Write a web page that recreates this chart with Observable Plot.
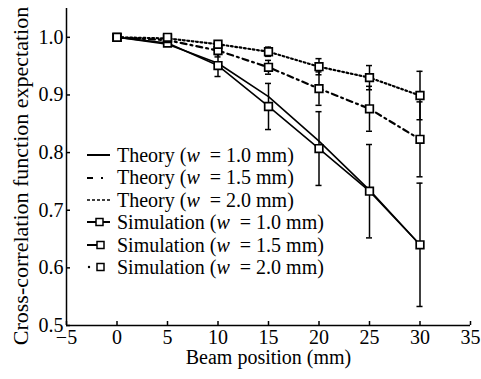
<!DOCTYPE html>
<html><head><meta charset="utf-8">
<script src="https://cdn.jsdelivr.net/npm/d3@7"></script>
<script src="https://cdn.jsdelivr.net/npm/@observablehq/plot@0.6"></script>
<style>
body{margin:0;background:#fff;}
#wrap{position:relative;width:481px;height:379px;}
#legend{position:absolute;left:84px;top:144px;font-family:"Liberation Serif",serif;font-size:20px;line-height:22.4px;color:#000;white-space:nowrap;}
#legend .row{height:22.4px;display:flex;align-items:center;}
#legend svg{width:26px;height:22px;margin-right:7px;flex:none;}
</style></head><body><div id="wrap"><div id="legend"></div></div>
<script>
// ---- data ----
const positions = [0, 5, 10, 15, 20, 25, 30];
const theory10 = [1.0, 0.988, 0.955, 0.897, 0.82, 0.735, 0.64];
const theory15 = [1.0, 0.995, 0.977, 0.948, 0.911, 0.876, 0.823];
const theory20 = [1.0, 0.998, 0.988, 0.975, 0.949, 0.93, 0.899];
const sim10 = [1.0, 0.99, 0.951, 0.88, 0.807, 0.733, 0.64];
const err10 = [0, 0, 0.019, 0.04, 0.064, 0.081, 0.107];
const sim15 = [1.0, 0.998, 0.977, 0.948, 0.911, 0.876, 0.823];
const err15 = [0, 0, 0.011, 0.012, 0.029, 0.039, 0.065];
const sim20 = [1.0, 1.0, 0.988, 0.975, 0.949, 0.93, 0.899];
const err20 = [0, 0, 0.005, 0.008, 0.014, 0.021, 0.042];
const xTicks = [-5, 0, 5, 10, 15, 20, 25, 30, 35];
const yTicks = [0.5, 0.6, 0.7, 0.8, 0.9, 1.0];
const xLabel = "Beam position (mm)";
const yLabel = "Cross-correlation function expectation";
const legendLabels = ["Theory", "Theory", "Theory", "Simulation", "Simulation", "Simulation"];
const legendWidths = ["1.0", "1.5", "2.0", "1.0", "1.5", "2.0"];

const toRows = (ys, errs) => positions.map((x, i) => ({x, y: ys[i], e: errs ? errs[i] : 0}));
const t10 = toRows(theory10), t15 = toRows(theory15), t20 = toRows(theory20);
const s10 = toRows(sim10, err10), s15 = toRows(sim15, err15), s20 = toRows(sim20, err20);
const sims = [...s10, ...s15, ...s20];
const bars = sims.filter(d => d.e > 0);
const capHalf = 0.3;

const chart = Plot.plot({
  width: 481, height: 379,
  marginLeft: 66, marginRight: 11, marginTop: 8, marginBottom: 54,
  x: {domain: [-5, 35]},
  y: {domain: [0.5, 1.05]},
  style: {fontFamily: "Liberation Serif, serif", fontSize: "20px", color: "#000", background: "#fff"},
  marks: [
    Plot.axisX({ticks: xTicks, tickSize: -4, tickPadding: 8, strokeWidth: 1.5, label: xLabel, labelAnchor: "center", labelArrow: "none", labelOffset: 38}),
    Plot.axisY({ticks: yTicks, tickSize: -4, tickPadding: 7, strokeWidth: 1.5, tickFormat: d => d.toFixed(1), label: null}),
    Plot.text([yLabel], {frameAnchor: "left", textAnchor: "middle", rotate: -90, dx: -54, dy: 9, lineAnchor: "top", fontSize: 22}),
    Plot.ruleX([-5], {y1: 0.5, y2: 1.05, strokeWidth: 1.5}),
    Plot.ruleY([0.5], {x1: -5, x2: 35, strokeWidth: 1.5}),
    Plot.line(t10, {x: "x", y: "y", stroke: "#000", strokeWidth: 1.6}),
    Plot.line(s10, {x: "x", y: "y", stroke: "#000", strokeWidth: 1.6}),
    Plot.line(t15, {x: "x", y: "y", stroke: "#000", strokeWidth: 2.2, strokeDasharray: "6,4,2,4"}),
    Plot.line(t20, {x: "x", y: "y", stroke: "#000", strokeWidth: 2.2, strokeDasharray: "1.8,2.6"}),
    Plot.ruleX(bars, {x: "x", y1: d => d.y - d.e, y2: d => d.y + d.e, stroke: "#000", strokeWidth: 1.5}),
    Plot.ruleY(bars, {y: d => d.y - d.e, x1: d => d.x - capHalf, x2: d => d.x + capHalf, stroke: "#000", strokeWidth: 1.5}),
    Plot.ruleY(bars, {y: d => d.y + d.e, x1: d => d.x - capHalf, x2: d => d.x + capHalf, stroke: "#000", strokeWidth: 1.5}),
    Plot.dot(sims, {x: "x", y: "y", symbol: "square", r: 4.3, fill: "#fff", stroke: "#000", strokeWidth: 1.7})
  ]
});
document.getElementById("wrap").prepend(chart);

// ---- legend ----
const swatches = [
  '<line x1="3" y1="11" x2="26" y2="11" stroke="#000" stroke-width="2"/>',
  '<line x1="3" y1="11" x2="26" y2="11" stroke="#000" stroke-width="2" stroke-dasharray="6,8,2,20"/>',
  '<line x1="3" y1="11" x2="26" y2="11" stroke="#000" stroke-width="1.5" stroke-dasharray="3,2"/>',
  '<line x1="3" y1="11" x2="26" y2="11" stroke="#000" stroke-width="2"/><rect x="12" y="7.5" width="7" height="7" fill="#fff" stroke="#000" stroke-width="1.5"/>',
  '<line x1="3" y1="11" x2="13" y2="11" stroke="#000" stroke-width="2"/><rect x="13" y="7.5" width="7" height="7" fill="#fff" stroke="#000" stroke-width="1.5"/>',
  '<circle cx="5" cy="11" r="1.2" fill="#000"/><rect x="13" y="7.5" width="7" height="7" fill="#fff" stroke="#000" stroke-width="1.5"/>'
];
const leg = document.getElementById("legend");
legendLabels.forEach((lab, i) => {
  const row = document.createElement("div");
  row.className = "row";
  row.innerHTML = `<svg viewBox="0 0 26 22">${swatches[i]}</svg><span>${lab} (<i>w</i>&nbsp; = ${legendWidths[i]} mm)</span>`;
  leg.appendChild(row);
});
</script>
</body></html>
